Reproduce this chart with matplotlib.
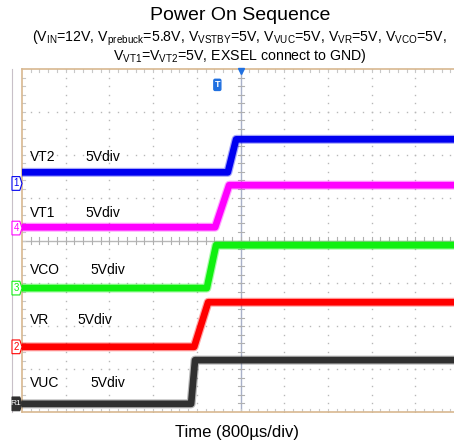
import numpy as np
import matplotlib.pyplot as plt
from matplotlib.patches import Polygon, FancyBboxPatch

plt.rcParams['font.family'] = ['Liberation Sans', 'DejaVu Sans']
plt.rcParams['mathtext.fontset'] = 'custom'
plt.rcParams['mathtext.rm'] = 'Liberation Sans'
plt.rcParams['mathtext.it'] = 'Liberation Sans'

# scope channels, top to bottom (levels in divisions, time in divisions)
channels = ['VT2', 'VT1', 'VCO', 'VR', 'VUC']
markers = ['1', '4', '3', '2', 'R1']
colors = ['#0000f0', '#ff00ff', '#10f010', '#ff0000', '#303030']
low_level = [5.59, 4.31, 2.89, 1.52, 0.19]
high_level = [6.36, 5.29, 3.89, 2.56, 1.21]
rise_start = [4.71, 4.42, 4.23, 3.94, 3.87]
rise_end = [4.90, 4.74, 4.44, 4.26, 3.96]
ground_ref = [5.33, 4.29, 2.89, 1.52, 0.19]
scale_labels = ['5Vdiv'] * 5
label_x = [1.45, 1.45, 1.56, 1.28, 1.56]
label_y = [5.94, 4.64, 3.31, 2.14, 0.68]

x_max = (454 - 22) / 43.7
fig = plt.figure(figsize=(4.54, 4.45), dpi=100)
ax = fig.add_axes([22 / 454, 33 / 445, (454 - 22) / 454, (412 - 69) / 445])
ax.set_xlim(0, x_max)
ax.set_ylim(0, 8)
ax.set_xticks([])
ax.set_yticks([])
for s in ax.spines.values():
    s.set_color('#d8b890')
    s.set_linewidth(1.2)
ax.spines['right'].set_visible(False)

# dotted graticule
dots = np.arange(0, 10.01, 0.2)
for gx in range(1, 10):
    if gx == 5:
        continue
    ax.plot(np.full(41, gx), np.linspace(0, 8, 41), ls='none', marker='s',
            ms=1.0, mew=0, color='#b8b8b8', zorder=1)
for gy in range(1, 8):
    if gy == 4:
        continue
    ax.plot(dots, np.full(len(dots), gy), ls='none', marker='s',
            ms=1.0, mew=0, color='#b8b8b8', zorder=1)

# centre lines with minor ticks
ax.axvline(5.01, color='#a8b0c8', lw=1.0, zorder=1)
ax.axhline(4, color='#b8b8b8', lw=1.0, zorder=1)
for yy in np.arange(0.2, 8, 0.2):
    ax.plot([4.94, 5.08], [yy, yy], color='#b0b0b0', lw=0.8, zorder=1)
    ax.plot([0, 0.08], [yy, yy], color='#c8c8c8', lw=0.8, zorder=1)
for xx in np.arange(0.2, 10, 0.2):
    ax.plot([xx, xx], [3.93, 4.07], color='#b0b0b0', lw=0.8, zorder=1)
    ax.plot([xx, xx], [0, 0.07], color='#c8c8c8', lw=0.8, zorder=1)
    ax.plot([xx, xx], [7.93, 8], color='#c8c8c8', lw=0.8, zorder=1)

# traces
for i, name in enumerate(channels):
    t = [0, rise_start[i], rise_end[i], x_max]
    v = [low_level[i], low_level[i], high_level[i], high_level[i]]
    ax.plot(t, v, color=colors[i], lw=6.5, alpha=0.35, solid_capstyle='butt', zorder=3)
    ax.plot(t, v, color=colors[i], lw=4.8, solid_capstyle='butt', zorder=4)
    ax.text(0.19, label_y[i], name, fontsize=10, va='center', ha='left', zorder=5)
    ax.text(label_x[i], label_y[i], scale_labels[i], fontsize=10,
            va='center', ha='left', zorder=5)

# channel ground markers in the left strip
w = 10 / 43.7
for i, m in enumerate(markers):
    y0 = ground_ref[i]
    h = 0.16
    shape = [(-w, y0 - h), (-0.05, y0 - h), (0, y0), (-0.05, y0 + h), (-w, y0 + h)]
    if m == 'R1':
        poly = Polygon(shape, closed=True, fc=colors[i], ec=colors[i], lw=0.8,
                       clip_on=False, zorder=5)
        tc = 'white'
    else:
        poly = Polygon(shape, closed=True, fc='white', ec=colors[i], lw=0.8,
                       clip_on=False, zorder=5)
        tc = colors[i]
    ax.add_patch(poly)
    ax.text(-w / 2 - 0.02, y0, m, fontsize=6 if m == 'R1' else 7, color=tc,
            ha='center', va='center', clip_on=False, zorder=6)

ax.plot([-w, -w], [0, 8], color='#c8c0c8', lw=0.8, clip_on=False)

# trigger markers
ax.add_patch(FancyBboxPatch((4.42, 7.53), 0.1, 0.2, boxstyle='round,pad=0.03',
                            fc='#2070e0', ec='#2070e0', zorder=5))
ax.text(4.47, 7.63, 'T', color='white', fontsize=6.5, ha='center', va='center',
        fontweight='bold', zorder=6)
ax.plot(5.01, 7.95, marker='v', color='#2070e0', ms=5, clip_on=False, zorder=6)

fig.text(0.528, 1 - 15 / 445, 'Power On Sequence', fontsize=14, ha='center', va='center')
fig.text(0.528, 1 - 38 / 445,
         r'(V$_{\mathrm{IN}}$=12V, V$_{\mathrm{prebuck}}$=5.8V, V$_{\mathrm{VSTBY}}$=5V, '
         r'V$_{\mathrm{VUC}}$=5V, V$_{\mathrm{VR}}$=5V, V$_{\mathrm{VCO}}$=5V,',
         fontsize=10.2, ha='center', va='center')
fig.text(0.528, 1 - 56 / 445,
         r'V$_{\mathrm{VT1}}$=V$_{\mathrm{VT2}}$=5V, EXSEL connect to GND)',
         fontsize=10.2, ha='center', va='center')
fig.text(0.522, 1 - 432 / 445, 'Time (800µs/div)', fontsize=12, ha='center', va='center')

fig.savefig('out.png', dpi=100)
